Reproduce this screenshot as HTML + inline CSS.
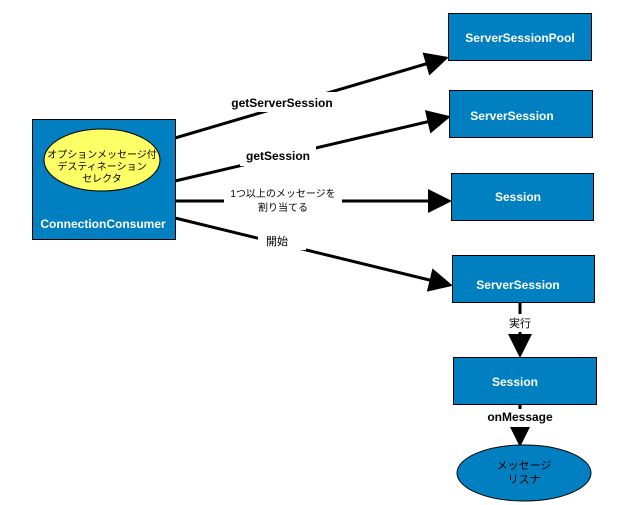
<!DOCTYPE html>
<html><head><meta charset="utf-8"><style>
html,body{margin:0;padding:0;background:#fff;}
svg{display:block;font-family:"Liberation Sans","Noto Sans CJK JP",sans-serif;}
.b{fill:#0080c0;stroke:#000;stroke-width:1;}
.t{fill:#fff;font-weight:bold;font-size:12px;text-anchor:middle;}
.l{font-weight:bold;font-size:12px;text-anchor:middle;fill:#000;}
.j{font-size:11px;text-anchor:middle;fill:#000;}
</style></head><body>
<svg width="618" height="505" viewBox="0 0 618 505">
<defs><marker id="a" markerWidth="8" markerHeight="8" refX="7" refY="4" orient="auto" markerUnits="strokeWidth"><path d="M0,0 L8,4 L0,8 z" fill="#000"/></marker></defs>
<g stroke="#000" stroke-width="3" fill="none">
<line x1="175" y1="138" x2="446" y2="58" marker-end="url(#a)"/>
<line x1="175" y1="181" x2="448" y2="117" marker-end="url(#a)"/>
<line x1="175" y1="201" x2="449" y2="201" marker-end="url(#a)"/>
<line x1="175" y1="218" x2="450" y2="285" marker-end="url(#a)"/>
<line x1="520" y1="302" x2="520" y2="355" marker-end="url(#a)"/>
<line x1="520" y1="404" x2="520" y2="444" marker-end="url(#a)"/>
</g>
<g fill="#fff">
<rect x="222" y="92" width="118" height="20"/>
<rect x="240" y="146" width="76" height="20"/>
<rect x="224" y="185" width="118" height="30"/>
<rect x="258" y="230" width="48" height="20"/>
<rect x="500" y="314" width="40" height="18"/>
<rect x="478" y="409" width="84" height="18"/>
</g>
<text class="l" x="282" y="107">getServerSession</text>
<text class="l" x="278" y="160">getSession</text>
<text class="j" x="283" y="197" style="font-size:10px">1つ以上のメッセージを</text>
<text class="j" x="283" y="211" style="font-size:10px">割り当てる</text>
<text class="j" x="277" y="245">開始</text>
<text class="j" x="520" y="327">実行</text>
<text class="l" x="520" y="421">onMessage</text>
<rect class="b" x="32.5" y="119.5" width="143" height="120"/>
<ellipse cx="102" cy="160" rx="58" ry="31" fill="#ffff66" stroke="#000"/>
<text class="j" x="102" y="158" style="font-size:10px">オプションメッセージ付</text>
<text class="j" x="102" y="170" style="font-size:10px">デスティネーション</text>
<text class="j" x="102" y="182" style="font-size:10px">セレクタ</text>
<text class="t" x="103" y="228">ConnectionConsumer</text>
<rect class="b" x="448.5" y="13.5" width="143" height="47"/>
<text class="t" x="520" y="42">ServerSessionPool</text>
<rect class="b" x="449.5" y="90.5" width="143" height="47"/>
<text class="t" x="512" y="120">ServerSession</text>
<rect class="b" x="451.5" y="173.5" width="142" height="47"/>
<text class="t" x="518" y="201">Session</text>
<rect class="b" x="452.5" y="255.5" width="142" height="47"/>
<text class="t" x="518" y="289">ServerSession</text>
<rect class="b" x="453.5" y="357.5" width="143" height="47"/>
<text class="t" x="515" y="386">Session</text>
<ellipse cx="524" cy="473" rx="67" ry="28" fill="#0080c0" stroke="#000"/>
<text class="j" x="524" y="469">メッセージ</text>
<text class="j" x="524" y="483">リスナ</text>
</svg>
</body></html>
